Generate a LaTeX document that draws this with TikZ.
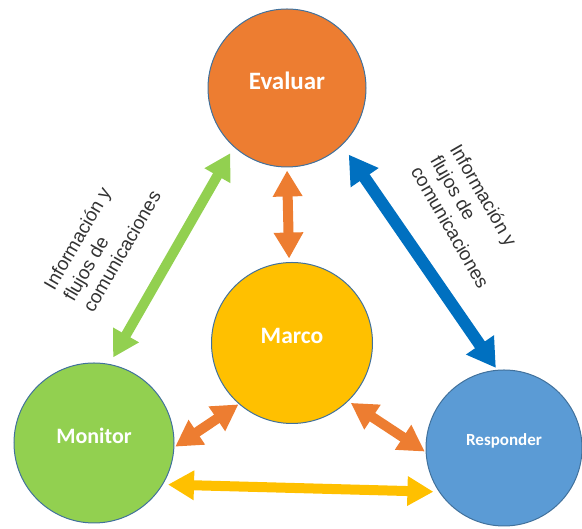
\documentclass[tikz,border=0pt]{standalone}
\usepackage{fontspec}
\setmainfont{Liberation Sans}
\newfontfamily\calib{Carlito}
\usetikzlibrary{arrows.meta}
\definecolor{evc}{HTML}{ED7D31}
\definecolor{mac}{HTML}{FFC000}
\definecolor{moc}{HTML}{92D050}
\definecolor{rec}{HTML}{5B9BD5}
\definecolor{blu}{HTML}{0070C0}
\definecolor{outl}{HTML}{41719C}
\definecolor{txt}{HTML}{333333}
\begin{document}
\begin{tikzpicture}[x=1pt,y=1pt,
  phase/.style={circle, draw=outl, line width=1pt, inner sep=0pt, minimum size=#1},
  ptxt/.style={text=white, inner sep=0pt, yshift=7pt, font=\calib\bfseries\fontsize{#1}{#1}\selectfont},
  flow/.style={line width=10pt, {Triangle[width=28pt,length=26pt]}-{Triangle[width=28pt,length=26pt]}},
  bigflow/.style={line width=12pt, {Triangle[width=32pt,length=28pt]}-{Triangle[width=32pt,length=28pt]}},
  note/.style={align=left, inner sep=0pt, text=txt, font=\fontsize{19}{22.5}\selectfont}
]
\useasboundingbox (0,0) rectangle (582,529);

% phases
\node[phase=158pt, fill=evc, label={[ptxt=25]center:Evaluar}] (ev) at (287,441) {};
\node[phase=161pt, fill=mac, label={[ptxt=23.5]center:Marco}] (ma) at (292,186) {};
\node[phase=160pt, fill=moc, label={[ptxt=22]center:Monitor}] (mon) at (94,86) {};
\node[phase=156pt, fill=rec, label={[ptxt=17]center:Responder}] (res) at (504,81) {};

% flows between phases
\draw[flow, moc, shorten <=7pt, shorten >=7.5pt] (ev.228) -- (mon.79.5);
\draw[bigflow, blu, shorten <=11.5pt, shorten >=2.3pt] (ev.314) -- (res.95);
\draw[flow, evc, shorten <=3pt, shorten >=3.5pt] (ev.270) -- (ma.92);
\draw[flow, evc, shorten <=1pt, shorten >=0.5pt] (mon.-3) -- (ma.229);
\draw[flow, evc, shorten <=3pt, shorten >=1pt] (ma.-46) -- (res.183.6);
\draw[flow, mac, shorten <=5pt, shorten >=5.5pt] (mon.-31) -- (res.214.3);

% side notes
\node[note, rotate=60] (nl) at (102,289) {Información y\\flujos de\\comunicaciones};
\node[note, rotate=-60] (nr) at (470,313) {Información y\\flujos de\\comunicaciones};
\end{tikzpicture}
\end{document}
